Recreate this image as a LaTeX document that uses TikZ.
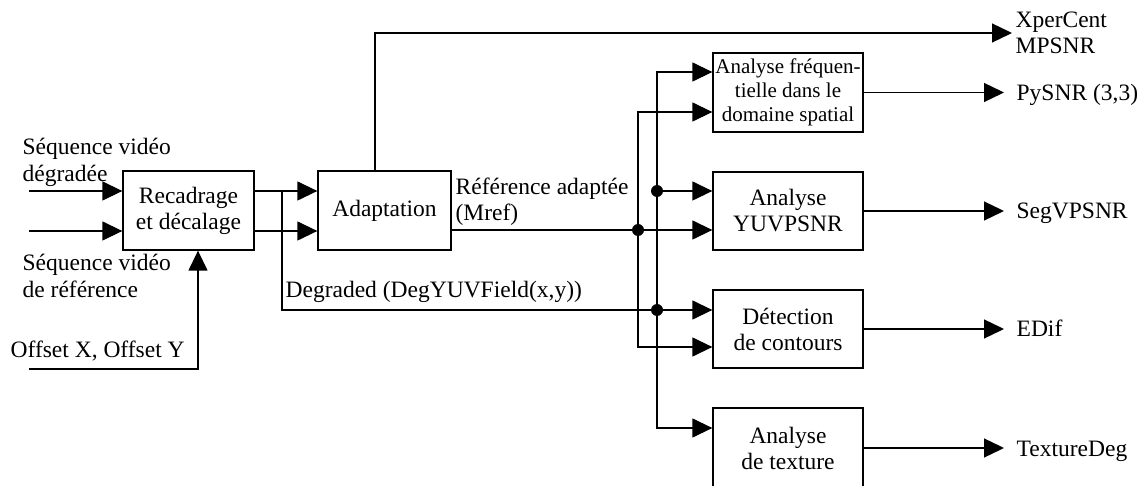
\documentclass[tikz,border=0pt]{standalone}
\usepackage{fontspec}
\setmainfont{Liberation Serif}
\usetikzlibrary{arrows.meta}
\begin{document}
\begin{tikzpicture}[x=1pt,y=-1pt,
  line width=1.3pt,
  >={Triangle[length=20pt,width=19pt]},
  blk/.style={draw, inner sep=0pt, align=center, minimum height=79pt,
    font=\fontsize{23.5}{26}\selectfont},
  lbl/.style={inner sep=0pt, align=left, font=\fontsize{23.5}{26.5}\selectfont},
  jdot/.style={circle, fill, inner sep=0pt, minimum size=12pt}]
\useasboundingbox (0,0) rectangle (1144,486);
\clip (0,0) rectangle (1144,486);

% processing blocks
\node[blk, minimum width=131pt] (rec) at (188.5,210.5) {Recadrage\\et décalage};
\node[blk, minimum width=133pt] (adp) at (384.5,210.5) {Adaptation};
\node[blk, minimum width=150pt, font=\fontsize{21}{24}\selectfont] (fre) at (788,92.5)
  {Analyse fréquen-\\tielle dans le\\domaine spatial};
\node[blk, minimum width=150pt, minimum height=78pt] (yuv) at (788,211) {Analyse\\YUVPSNR};
\node[blk, minimum width=150pt, minimum height=78pt] (det) at (788,329) {Détection\\de contours};
\node[blk, minimum width=150pt, minimum height=80pt] (tex) at (788,448) {Analyse\\de texture};

% input labels (base anchor sits on the last line)
\node[lbl, anchor=base west] (ldeg) at (22,181.5) {Séquence vidéo\\dégradée};
\node[lbl, anchor=base west] (lref) at (22,297.5) {Séquence vidéo\\de référence};
\node[lbl, anchor=base west] (loff) at (10,358) {Offset X, Offset Y};
\node[lbl, anchor=base west] (ldg) at (285,298) {Degraded (DegYUVField(x,y))};
\node[lbl, anchor=base west] (lmr) at (455,221) {Référence adaptée\\(Mref)};

% output labels
\node[lbl, anchor=base west] (oxp) at (1015,54) {XperCent\\MPSNR};
\node[lbl, anchor=base west] (opy) at (1016,100.5) {PySNR (3,3)};
\node[lbl, anchor=base west] (osg) at (1016,219) {SegVPSNR};
\node[lbl, anchor=base west] (oed) at (1016,337) {EDif};
\node[lbl, anchor=base west] (otx) at (1016,456) {TextureDeg};

% free ends and junctions
\coordinate (inA) at (29,191);
\coordinate (inB) at (29,231);
\coordinate (offs) at (29,369);
\coordinate (brk) at (282,191);
\coordinate (xpTip) at (1012,33);
\coordinate (outX) at (1004,0);
\coordinate (degIn) at ([yshift=19pt]det.west);
\coordinate (mrefIn) at ([yshift=-19pt]yuv.west);
\coordinate (j1) at (638,230);
\coordinate (j2) at (657,310);
\coordinate (j3) at (657,191);

% inputs to the cropping block
\draw[->] (inA) -- (inA -| rec.west);
\draw[->] (inB) -- (inB -| rec.west);
\draw[->] (offs) -| ([xshift=9.5pt]rec.south);

% cropping block to adaptation
\draw[->] (rec.east |- inA) -- (adp.west |- inA);
\draw[->] (rec.east |- inB) -- (adp.west |- inB);

% degraded signal
\draw[->] (brk) |- (degIn);

% direct outputs of adaptation
\draw[->] ([xshift=-9.5pt]adp.north) |- (xpTip);
\draw[->] (adp.east |- mrefIn) -- (mrefIn);

% distribution of the adapted reference
\draw[->] (j1) |- ([yshift=-19.5pt]fre.west);
\draw[->] (j1) |- ([yshift=-18pt]det.west);

% distribution of the degraded signal
\draw[->] (j2) |- ([yshift=20.5pt]fre.west);
\draw[->] (j2) |- ([yshift=20pt]tex.west);
\draw[->] (j3) -- (yuv.west |- j3);

\node[jdot] (d1) at (j1) {};
\node[jdot] (d2) at (j2) {};
\node[jdot] (d3) at (j3) {};

% measures
\draw[->] (fre.east) -- (fre.east -| outX);
\draw[->] (yuv.east) -- (yuv.east -| outX);
\draw[->] (det.east) -- (det.east -| outX);
\draw[->] (tex.east) -- (tex.east -| outX);
\end{tikzpicture}
\end{document}
